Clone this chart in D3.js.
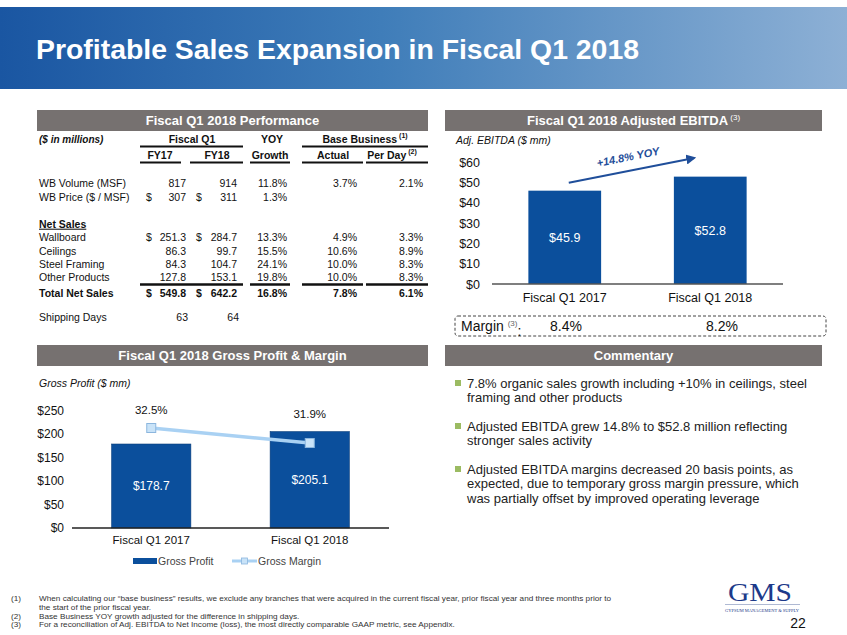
<!DOCTYPE html>
<html><head><meta charset="utf-8">
<script src="https://cdn.jsdelivr.net/npm/d3@7"></script>
<style>
html,body{margin:0;padding:0;background:#fff;}
svg{display:block;font-family:"Liberation Sans",Arial,sans-serif;}
</style></head>
<body>
<svg id="c" width="847" height="635"></svg>
<script>
// ---------- DATA ----------
const title = "Profitable Sales Expansion in Fiscal Q1 2018";
const rowLabels = ["WB Volume (MSF)","WB Price ($ / MSF)","Wallboard","Ceilings","Steel Framing","Other Products","Total Net Sales","Shipping Days"];
const fy17 = ["817","307","251.3","86.3","84.3","127.8","549.8","63"];
const fy18 = ["914","311","284.7","99.7","104.7","153.1","642.2","64"];
const yoyGrowth = ["11.8%","1.3%","13.3%","15.5%","24.1%","19.8%","16.8%",""];
const baseActual = ["3.7%","","4.9%","10.6%","10.0%","10.0%","7.8%",""];
const basePerDay = ["2.1%","","3.3%","8.9%","8.3%","8.3%","6.1%",""];
const dollarRows = ["WB Price ($ / MSF)","Wallboard","Total Net Sales"];

const categories = ["Fiscal Q1 2017","Fiscal Q1 2018"];
const ebitdaValues = [45.9, 52.8];
const ebitdaMargins = ["8.4%","8.2%"];
const ebitdaTicks = [0,10,20,30,40,50,60];
const yoyLabel = "+14.8% YOY";

const grossProfit = [178.7, 205.1];
const grossMargin = [32.5, 31.9];
const gpTicks = [0,50,100,150,200,250];

const commentary = [
  ["7.8% organic sales growth including +10% in ceilings, steel","framing and other products"],
  ["Adjusted EBITDA grew 14.8% to $52.8 million reflecting","stronger sales activity"],
  ["Adjusted EBITDA margins decreased 20 basis points, as","expected, due to temporary gross margin pressure, which","was partially offset by improved operating leverage"]
];
const footnotes = [
  ["(1)","When calculating our \u201cbase business\u201d results, we exclude any branches that were acquired in the current fiscal year, prior fiscal year and three months prior to"],
  ["","the start of the prior fiscal year."],
  ["(2)","Base Business YOY growth adjusted for the difference in shipping days."],
  ["(3)","For a reconciliation of Adj. EBITDA to Net Income (loss), the most directly comparable GAAP metric, see Appendix."]
];

// ---------- STYLE ----------
const BAR = "#0b4f9c", HEAD = "#767170", NAVY = "#1f4e9a", LINE = "#a9d1f3";
const svg = d3.select("#c");
const defs = svg.append("defs");

// Title banner
const g = defs.append("linearGradient").attr("id","tg").attr("x1","0").attr("x2","1");
g.append("stop").attr("offset","0").attr("stop-color","#1a56a2");
g.append("stop").attr("offset","0.45").attr("stop-color","#3f7db9");
g.append("stop").attr("offset","1").attr("stop-color","#8db0d5");
svg.append("rect").attr("x",0).attr("y",7).attr("width",847).attr("height",82).attr("fill","url(#tg)");
svg.append("text").attr("x",36).attr("y",59).attr("fill","#fff").attr("font-size",28).attr("font-weight","bold")
  .attr("textLength",603).attr("lengthAdjust","spacingAndGlyphs").text(title);

function txt(sel, x, y, s, o={}) {
  const t = sel.append("text").attr("x",x).attr("y",y).attr("dy","0.35em")
    .attr("font-size",o.size||10.5).attr("fill",o.fill||"#111")
    .attr("text-anchor",o.anchor||"start");
  if (o.bold) t.attr("font-weight","bold");
  if (o.italic) t.attr("font-style","italic");
  if (o.underline) t.attr("text-decoration","underline");
  t.text(s);
  return t;
}
function header(x1, x2, y, label, sup) {
  svg.append("rect").attr("x",x1).attr("y",y).attr("width",x2-x1).attr("height",21).attr("fill",HEAD);
  const t = txt(svg,(x1+x2)/2,y+10.5,label,{size:13,bold:true,fill:"#fff",anchor:"middle"});
  if (sup) t.append("tspan").attr("font-size",8).attr("dy","-0.6em").attr("font-weight","normal").text(" "+sup);
}
header(37,428,110,"Fiscal Q1 2018 Performance");
header(445,822,110,"Fiscal Q1 2018 Adjusted EBITDA","(3)");
header(37,428,345,"Fiscal Q1 2018 Gross Profit & Margin");
header(445,822,345,"Commentary");

// ---------- TABLE ----------
const T = svg.append("g");
txt(T,39,139,"($ in millions)",{italic:true,bold:true,size:10});
txt(T,192,139,"Fiscal Q1",{bold:true,anchor:"middle"});
txt(T,272,139,"YOY",{bold:true,anchor:"middle"});
txt(T,365,139,"Base Business",{bold:true,anchor:"middle"}).append("tspan").attr("font-size",7).attr("dy","-0.6em").text(" (1)");
[["FY17",160],["FY18",217],["Growth",270],["Actual",333],["Per Day",392]].forEach(([s,x])=>{
  const t = txt(T,x,155,s,{bold:true,anchor:"middle"});
  if (s==="Per Day") t.append("tspan").attr("font-size",7).attr("dy","-0.6em").text(" (2)");
});
function hl(x1,x2,y,w){T.append("line").attr("x1",x1).attr("x2",x2).attr("y1",y).attr("y2",y).attr("stroke","#111").attr("stroke-width",w);}
hl(140,243,146.5,2); hl(302,428,146.5,2);
[[140,181],[190,243],[250,290],[302,363],[366,428]].forEach(([a,b])=>hl(a,b,162.5,2));
[[140,243],[250,290],[302,363],[366,428]].forEach(([a,b])=>hl(a,b,284.5,2.5));
const rowY = [183,197,237,251,264,277,293,317];
txt(T,39,224,"Net Sales",{bold:true,underline:true});
rowLabels.forEach((lab,i)=>{
  const y = rowY[i], bold = lab==="Total Net Sales";
  txt(T,39,y,lab,{bold});
  const ship = lab==="Shipping Days";
  txt(T,ship?188:186,y,fy17[i],{anchor:"end",bold});
  txt(T,ship?239:237,y,fy18[i],{anchor:"end",bold});
  txt(T,287,y,yoyGrowth[i],{anchor:"end",bold});
  txt(T,357,y,baseActual[i],{anchor:"end",bold});
  txt(T,423,y,basePerDay[i],{anchor:"end",bold});
  if (dollarRows.includes(lab)) { txt(T,146,y,"$",{bold}); txt(T,196,y,"$",{bold}); }
});

// ---------- EBITDA CHART ----------
const E = svg.append("g");
txt(E,456,140,"Adj. EBITDA ($ mm)",{italic:true,size:10.5});
const ex = d3.scaleBand().domain(categories).range([492,783]).paddingInner(0.5).paddingOuter(0.25);
const ey = d3.scaleLinear().domain([0,60]).range([284,162]);
E.append("g").attr("transform","translate(480,0)")
  .call(d3.axisLeft(ey).tickValues(ebitdaTicks).tickFormat(d=>"$"+d).tickSize(0).tickPadding(0))
  .call(a=>{a.select(".domain").remove();a.selectAll("text").attr("font-size",12.5).attr("fill","#111").attr("font-family","Liberation Sans, Arial");});
E.selectAll("rect.b").data(ebitdaValues).join("rect").attr("class","b")
  .attr("x",(d,i)=>ex(categories[i])).attr("width",ex.bandwidth())
  .attr("y",d=>ey(d)).attr("height",d=>ey(0)-ey(d)).attr("fill",BAR);
E.append("line").attr("x1",492).attr("x2",783).attr("y1",ey(0)).attr("y2",ey(0)).attr("stroke","#555").attr("stroke-width",1.5);
ebitdaValues.forEach((v,i)=>{
  const cx = ex(categories[i])+ex.bandwidth()/2;
  txt(E,cx,(ey(v)+ey(0))/2,"$"+v.toFixed(1),{anchor:"middle",fill:"#fff",size:12.5});
  txt(E,cx,298,categories[i],{anchor:"middle",size:12.5});
});
// YOY arrow
defs.append("marker").attr("id","ah").attr("viewBox","0 0 10 10").attr("refX",8).attr("refY",5)
  .attr("markerWidth",5).attr("markerHeight",5).attr("orient","auto")
  .append("path").attr("d","M0,0L10,5L0,10z").attr("fill",NAVY);
const a0 = [ex(categories[0])+ex.bandwidth()/2+4, ey(ebitdaValues[0])-8];
const a1 = [ex(categories[1])+ex.bandwidth()/2-16, ey(60)-4];
E.append("line").attr("x1",a0[0]).attr("y1",a0[1]).attr("x2",a1[0]).attr("y2",a1[1])
  .attr("stroke",NAVY).attr("stroke-width",2).attr("marker-end","url(#ah)");
const ang = Math.atan2(a1[1]-a0[1],a1[0]-a0[0])*180/Math.PI;
E.append("text").attr("transform",`translate(628,157) rotate(${ang})`).attr("text-anchor","middle").attr("dy","0.35em")
  .attr("font-size",11).attr("font-weight","bold").attr("font-style","italic").attr("fill",NAVY).text(yoyLabel);
// margin box
E.append("rect").attr("x",455).attr("y",316).attr("width",371).attr("height",20).attr("rx",3)
  .attr("fill","none").attr("stroke","#444").attr("stroke-dasharray","3,2").attr("stroke-width",1);
const mt = txt(E,461,326.5,"Margin ",{size:14});
mt.append("tspan").attr("font-size",8).attr("fill","#666").attr("dy","-0.7em").text("(3)");
mt.append("tspan").attr("dy","0.7em").text(":");
txt(E,566,326.5,ebitdaMargins[0],{anchor:"middle",size:14});
txt(E,722,326.5,ebitdaMargins[1],{anchor:"middle",size:14});

// ---------- GROSS PROFIT CHART ----------
const G = svg.append("g");
txt(G,39,383,"Gross Profit ($ mm)",{italic:true,size:10.5});
const gx = d3.scaleBand().domain(categories).range([72,389]).paddingInner(0.5).paddingOuter(0.25);
const gy = d3.scaleLinear().domain([0,250]).range([528,410.5]);
const gy2 = d3.scaleLinear().domain([28.5,33.2]).range([528,410.5]);
G.append("g").attr("transform","translate(64,0)")
  .call(d3.axisLeft(gy).tickValues(gpTicks).tickFormat(d=>"$"+d).tickSize(0).tickPadding(0))
  .call(a=>{a.select(".domain").remove();a.selectAll("text").attr("font-size",12).attr("fill","#111").attr("font-family","Liberation Sans, Arial");});
G.selectAll("rect.b").data(grossProfit).join("rect").attr("class","b")
  .attr("x",(d,i)=>gx(categories[i])).attr("width",gx.bandwidth())
  .attr("y",d=>gy(d)).attr("height",d=>gy(0)-gy(d)).attr("fill",BAR).attr("stroke","#073d7a").attr("stroke-width",0.6);
G.append("line").attr("x1",72).attr("x2",389).attr("y1",gy(0)).attr("y2",gy(0)).attr("stroke","#222").attr("stroke-width",1.5);
grossProfit.forEach((v,i)=>{
  const cx = gx(categories[i])+gx.bandwidth()/2;
  txt(G,cx,(gy(v)+gy(0))/2,"$"+v.toFixed(1),{anchor:"middle",fill:"#fff",size:12});
  txt(G,cx,540,categories[i],{anchor:"middle",size:11.5});
});
const pts = grossMargin.map((m,i)=>[gx(categories[i])+gx.bandwidth()/2, gy2(m)]);
G.append("path").attr("d",d3.line()(pts)).attr("stroke",LINE).attr("stroke-width",3.5).attr("fill","none");
pts.forEach(([x,y],i)=>{
  G.append("rect").attr("x",x-4.5).attr("y",y-4.5).attr("width",9).attr("height",9)
    .attr("fill","#c9e3f8").attr("stroke","#8cb6de").attr("stroke-width",1);
  txt(G,x,gy(250)-1+(y-pts[0][1])*0.27,grossMargin[i].toFixed(1)+"%",{anchor:"middle",size:11.5});
});
// legend
G.append("rect").attr("x",133).attr("y",558).attr("width",24).attr("height",6).attr("fill",BAR);
txt(G,158,561,"Gross Profit",{size:10.5,fill:"#444"});
G.append("line").attr("x1",232).attr("x2",257).attr("y1",561).attr("y2",561).attr("stroke",LINE).attr("stroke-width",3);
G.append("rect").attr("x",241.5).attr("y",558).attr("width",6).attr("height",6).attr("fill","#c9e3f8").attr("stroke","#8cb6de").attr("stroke-width",0.8);
txt(G,258,561,"Gross Margin",{size:10.5,fill:"#444"});

// ---------- COMMENTARY ----------
const C = svg.append("g");
const bulletY = [383,426,469];
commentary.forEach((lines,i)=>{
  C.append("rect").attr("x",455).attr("y",bulletY[i]-3).attr("width",6).attr("height",6).attr("fill","#9bbb62");
  lines.forEach((l,j)=>txt(C,467,bulletY[i]+j*14.5,l,{size:13,fill:"#222"}));
});

// ---------- FOOTNOTES ----------
const SX = 1.08;
const F = svg.append("g").attr("transform",`scale(${SX},1)`);
const fnY = [598.5,607,616,624];
footnotes.forEach(([n,s],i)=>{
  if (n) txt(F,11/SX,fnY[i],n,{size:7.6,fill:"#333"});
  txt(F,39/SX,fnY[i],s,{size:7.6,fill:"#333"});
});
// logo
const L = svg.append("g");
L.append("text").attr("x",760).attr("y",601).attr("text-anchor","middle").attr("font-family","Liberation Serif, Times New Roman, serif")
  .attr("font-size",26).attr("fill","#1d3a8a").attr("textLength",64).attr("lengthAdjust","spacingAndGlyphs").text("GMS");
L.append("line").attr("x1",725).attr("x2",800).attr("y1",604.5).attr("y2",604.5).attr("stroke","#9aa7c8").attr("stroke-width",0.8);
L.append("text").attr("x",762).attr("y",611.5).attr("text-anchor","middle").attr("font-family","Liberation Serif, serif")
  .attr("font-size",4.6).attr("fill","#1d3a8a").attr("textLength",74).attr("lengthAdjust","spacingAndGlyphs").text("GYPSUM MANAGEMENT & SUPPLY");
txt(L,798,623,"22",{anchor:"middle",size:14,fill:"#111"});
</script>
</body></html>
